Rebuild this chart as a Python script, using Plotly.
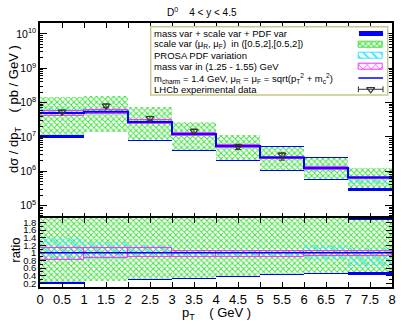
import plotly.graph_objects as go

# ---------------- data ----------------
bin_edges = [0, 1, 2, 3, 4, 5, 6, 7, 8]
central = [5.0e7, 5.4e7, 2.7e7, 1.22e7, 5.4e6, 2.5e6, 1.23e6, 6.5e5]
scale_hi = [1.48e8, 1.58e8, 7.2e7, 2.77e7, 1.14e7, 5.2e6, 2.5e6, 1.22e6]
scale_lo = [1.14e7, 1.42e7, 8.1e6, 4.15e6, 2.1e6, 1.08e6, 5.9e5, 3.2e5]
total_hi = [1.50e8, 1.60e8, 7.3e7, 2.8e7, 1.15e7, 5.25e6, 2.52e6, 1.23e6]
total_lo = [9.4e6, 1.35e7, 7.7e6, 3.95e6, 2.0e6, 1.03e6, 5.6e5, 2.65e5]
pdf_hi_ratio = [1.38, 1.29, 1.20, 1.08, 1.08, 1.08, 1.20, 1.12]
pdf_lo_ratio = [0.82, 0.85, 0.88, 0.92, 0.92, 0.92, 0.80, 0.66]
mass_hi_ratio = [1.14, 1.14, 1.12, 1.06, 1.06, 1.06, 1.05, 1.05]
mass_lo_ratio = [0.815, 0.86, 0.90, 0.90, 0.90, 0.90, 0.91, 0.91]

data_x = [0.5, 1.5, 2.5, 3.5, 4.5, 5.5]
data_y = [5.4e7, 8.1e7, 3.5e7, 1.48e7, 5.2e6, 3.0e6]
data_err_up = [6e6, 1.0e7, 4.5e6, 2.0e6, 9e5, 4e5]
data_err_dn = [6e6, 1.0e7, 4.5e6, 2.0e6, 9e5, 9e5]

x_tick_vals = [0, 0.5, 1, 1.5, 2, 2.5, 3, 3.5, 4, 4.5, 5, 5.5, 6, 6.5, 7, 7.5, 8]
x_tick_text = ["0", "0.5", "1", "1.5", "2", "2.5", "3", "3.5", "4", "4.5",
               "5", "5.5", "6", "6.5", "7", "7.5", "8"]
y_tick_vals = [1e5, 1e6, 1e7, 1e8, 1e9, 1e10]
y_tick_text = ["10<sup>5</sup>", "10<sup>6</sup>", "10<sup>7</sup>",
               "10<sup>8</sup>", "10<sup>9</sup>", "10<sup>10</sup>"]
r_tick_vals = [0.2, 0.4, 0.6, 0.8, 1.0, 1.2, 1.4, 1.6, 1.8]
r_tick_text = ["0.2", "0.4", "0.6", "0.8", "1", "1.2", "1.4", "1.6", "1.8"]

legend_labels = [
    "mass var + scale var + PDF var",
    "scale var (μ<sub>R</sub>, μ<sub>F</sub>)\u00a0\u00a0in ([0.5,2],[0.5,2])",
    "PROSA PDF variation",
    "mass var in (1.25 - 1.55) GeV",
    "m<sub>charm</sub> = 1.4 GeV, μ<sub>R</sub> = μ<sub>F</sub> = sqrt(p<sub>T</sub><sup>2</sup> + m<sub>c</sub><sup>2</sup>)",
    "LHCb experimental data",
]

# ---------------- derived ----------------
centers = [(bin_edges[i] + bin_edges[i + 1]) / 2 for i in range(len(central))]
widths = [bin_edges[i + 1] - bin_edges[i] for i in range(len(central))]
pdf_hi = [r * c for r, c in zip(pdf_hi_ratio, central)]
pdf_lo = [r * c for r, c in zip(pdf_lo_ratio, central)]
mass_hi = [r * c for r, c in zip(mass_hi_ratio, central)]
mass_lo = [r * c for r, c in zip(mass_lo_ratio, central)]

BLUE = "#0000ff"
GREEN_FG = "#3ee03e"
CYAN = "#33e8ff"
MAGENTA = "#ff30ff"
FONT = "Liberation Sans, Arial, sans-serif"

green_marker = dict(color="white", line=dict(width=0),
                    pattern=dict(shape="x", fgcolor=GREEN_FG, bgcolor="white",
                                 size=4, solidity=0.42, fillmode="replace"))
cyan_marker = dict(color="rgba(0,0,0,0)", line=dict(width=0),
                   pattern=dict(shape="\\", fgcolor=CYAN, bgcolor="rgba(0,0,0,0)",
                                size=6, solidity=0.25, fillmode="replace"))
magenta_marker = dict(color="rgba(0,0,0,0)", line=dict(width=1, color=MAGENTA),
                      pattern=dict(shape="x", fgcolor=MAGENTA, bgcolor="rgba(0,0,0,0)",
                                   size=8, solidity=0.15, fillmode="replace"))

fig = go.Figure()


def band(lo, hi, marker, xa, ya):
    fig.add_trace(go.Bar(x=centers, y=[h - l for h, l in zip(hi, lo)], base=lo,
                         width=widths, marker=marker, xaxis=xa, yaxis=ya,
                         showlegend=False, hoverinfo="skip"))


# ---- main panel ----
band(total_lo, total_hi, dict(color=BLUE, line=dict(width=0)), "x", "y")
band(scale_lo, scale_hi, green_marker, "x", "y")
band(pdf_lo, pdf_hi, cyan_marker, "x", "y")
band(mass_lo, mass_hi, magenta_marker, "x", "y")
fig.add_trace(go.Scatter(x=bin_edges, y=central + [central[-1]], mode="lines",
                         line=dict(color=BLUE, width=2, shape="hv"),
                         xaxis="x", yaxis="y", showlegend=False))
fig.add_trace(go.Scatter(x=data_x, y=data_y, mode="markers",
                         marker=dict(symbol="triangle-down-open", size=7,
                                     color="#333333", line=dict(width=1.2, color="#333333")),
                         error_y=dict(type="data", array=data_err_up, arrayminus=data_err_dn,
                                      color="#333333", thickness=1, width=3),
                         xaxis="x", yaxis="y", showlegend=False))

# ---- ratio panel ----
def ratio(vals):
    return [v / c for v, c in zip(vals, central)]


band(ratio(total_lo), ratio(total_hi), dict(color=BLUE, line=dict(width=0)), "x2", "y2")
band(ratio(scale_lo), ratio(scale_hi), green_marker, "x2", "y2")
band(pdf_lo_ratio, pdf_hi_ratio, cyan_marker, "x2", "y2")
band(mass_lo_ratio, mass_hi_ratio, magenta_marker, "x2", "y2")
cr = ratio(central)
fig.add_trace(go.Scatter(x=bin_edges, y=cr + [cr[-1]], mode="lines",
                         line=dict(color=BLUE, width=1.5, shape="hv"),
                         xaxis="x2", yaxis="y2", showlegend=False))

# ---- hand-made legend (symbols on the right, as in the original) ----
rows = [1, 2, 3, 4, 5, 6]
sym_base, sym_len = 207.7, 24.6
leg_markers = [dict(color=BLUE, line=dict(width=0)),
               dict(color="white", line=dict(width=1, color=GREEN_FG),
                    pattern=dict(shape="x", fgcolor=GREEN_FG, bgcolor="white", size=4,
                                 solidity=0.45, fillmode="replace")),
               dict(color="white", line=dict(width=1, color=CYAN),
                    pattern=dict(shape="\\", fgcolor=CYAN, bgcolor="white", size=6,
                                 solidity=0.3, fillmode="replace")),
               dict(color="white", line=dict(width=1, color=MAGENTA),
                    pattern=dict(shape="x", fgcolor=MAGENTA, bgcolor="white", size=6,
                                 solidity=0.25, fillmode="replace"))]
for r, m in zip(rows[:4], leg_markers):
    fig.add_trace(go.Bar(y=[r], x=[sym_len], base=[sym_base], orientation="h", width=0.5,
                         marker=m, xaxis="x3", yaxis="y3", showlegend=False, hoverinfo="skip"))
fig.add_trace(go.Scatter(x=[sym_base, sym_base + sym_len], y=[rows[4], rows[4]], mode="lines",
                         line=dict(color=BLUE, width=1.5), xaxis="x3", yaxis="y3",
                         showlegend=False, hoverinfo="skip"))
fig.add_trace(go.Scatter(x=[sym_base + sym_len / 2], y=[rows[5]], mode="markers",
                         marker=dict(symbol="triangle-down-open", size=7, color="#333333",
                                     line=dict(width=1.2, color="#333333")),
                         error_x=dict(type="constant", value=sym_len / 2, color="#333333",
                                      thickness=1, width=3),
                         xaxis="x3", yaxis="y3", showlegend=False, hoverinfo="skip"))

annotations = []
for r, lab in zip(rows, legend_labels):
    annotations.append(dict(x=1.5, y=r, xref="x3", yref="y3", text=lab, showarrow=False,
                            xanchor="left", yanchor="middle",
                            font=dict(size=9.5, color="black", family=FONT)))

annotations += [
    dict(x=0.46, y=1.042, xref="paper", yref="paper", xanchor="center", yanchor="middle",
         text="D<sup>0</sup>\u00a0\u00a0\u00a0\u00a04 &lt; y &lt; 4.5", showarrow=False,
         font=dict(size=10, color="black", family=FONT)),
    dict(x=-0.074, y=0.674, xref="paper", yref="paper", textangle=-90,
         xanchor="center", yanchor="middle",
         text="dσ / dp<sub>T</sub>\u00a0\u00a0\u00a0\u00a0( pb / GeV )", showarrow=False,
         font=dict(size=13, color="black", family=FONT)),
    dict(x=-0.072, y=0.14, xref="paper", yref="paper", textangle=-90,
         xanchor="center", yanchor="middle",
         text="ratio", showarrow=False, font=dict(size=13, color="black", family=FONT)),
    dict(x=0.5, y=-0.1, xref="paper", yref="paper", xanchor="center", yanchor="middle",
         text="p<sub>T</sub>\u00a0\u00a0\u00a0\u00a0( GeV )", showarrow=False,
         font=dict(size=13, color="black", family=FONT)),
]

axis_common = dict(showgrid=False, zeroline=False, showline=True, linecolor="black",
                   linewidth=1.5, mirror="ticks", ticks="inside", tickcolor="black")

split = 0.2614
fig.update_layout(
    width=407, height=326, autosize=False,
    margin=dict(l=40, r=15, t=23, b=39, pad=0),
    paper_bgcolor="white", plot_bgcolor="white",
    barmode="overlay", bargap=0,
    font=dict(family=FONT, color="black"),
    xaxis=dict(axis_common, domain=[0, 1], anchor="y", range=[0, 8],
               tickvals=x_tick_vals, showticklabels=False, ticklen=5, matches="x2"),
    yaxis=dict(axis_common, domain=[split, 1], anchor="x", type="log",
               range=[4.636, 10.32], tickvals=y_tick_vals, ticktext=y_tick_text,
               ticklen=7, tickfont=dict(size=10.5),
               minor=dict(ticks="inside", ticklen=3, dtick="D1", tickcolor="black")),
    xaxis2=dict(axis_common, domain=[0, 1], anchor="y2", range=[0, 8],
                tickvals=x_tick_vals, ticktext=x_tick_text, ticklen=5,
                tickfont=dict(size=13)),
    yaxis2=dict(axis_common, domain=[0, split], anchor="x2", range=[0.10, 1.92],
                tickvals=r_tick_vals, ticktext=r_tick_text, ticklen=6,
                tickfont=dict(size=9.5),
                minor=dict(ticks="inside", ticklen=3, dtick=0.1, tickcolor="black")),
    xaxis3=dict(domain=[(150.7 - 40) / 352, (387.7 - 40) / 352], anchor="y3",
                range=[0, 237], visible=False, fixedrange=True),
    yaxis3=dict(domain=[(287 - 95) / 264, (287 - 26.7) / 264], anchor="x3",
                range=[6.51, 0.41], visible=False, fixedrange=True),
    shapes=[dict(type="rect", xref="paper", yref="paper",
                 x0=(150.7 - 40) / 352, x1=(387.7 - 40) / 352,
                 y0=(287 - 95) / 264, y1=(287 - 26.7) / 264,
                 line=dict(color="#c8c88a", width=1.5), fillcolor="rgba(0,0,0,0)",
                 layer="above")],
    annotations=annotations,
)

fig.write_html("out.html", include_plotlyjs=True, config={"displayModeBar": False},
               post_script="document.body.style.margin='0';document.body.style.overflow='hidden';")
